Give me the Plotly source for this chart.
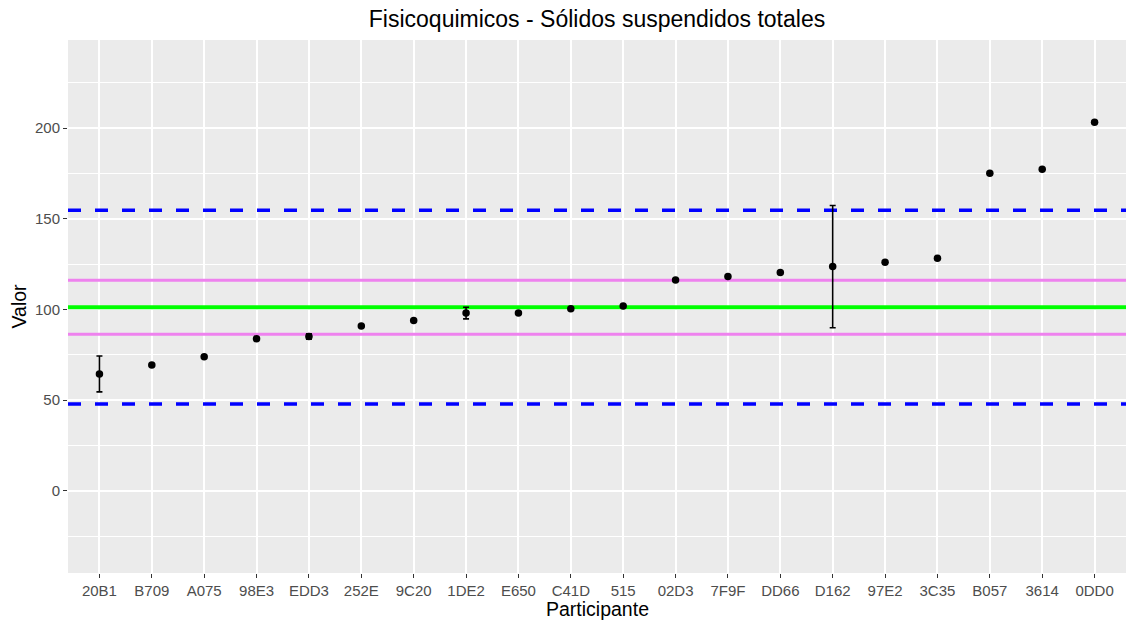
import plotly.graph_objects as go

participants = ["20B1", "B709", "A075", "98E3", "EDD3", "252E", "9C20", "1DE2", "E650", "C41D",
                "515", "02D3", "7F9F", "DD66", "D162", "97E2", "3C35", "B057", "3614", "0DD0"]
values = [64.4, 69.3, 73.9, 83.8, 85.0, 90.9, 93.9, 98.0, 98.0, 100.4,
          101.9, 116.2, 118.2, 120.4, 123.6, 126.0, 128.2, 175.1, 177.3, 203.2]
uncert = [9.9, 0, 0, 0, 1.5, 0, 0, 3.2, 0, 0,
          0, 0, 0, 0, 33.7, 0, 0, 0, 0, 0]

assigned_value = 101.2
inner_limits = [86.3, 116.1]
outer_limits = [47.8, 154.7]

y_range = [-45.4, 248.6]
y_ticks = [0, 50, 100, 150, 200]

font_family = "Liberation Sans, Arial, sans-serif"

W, H = 1129, 621
ML, MR, MT, MB = 68, 3, 40, 48
PW, PH = W - ML - MR, H - MT - MB

positions = list(range(len(participants)))
x_range = [-0.6, len(participants) - 0.4]

fig = go.Figure()

# reference lines first (drawn beneath the points), spanning the full x range
for yv in outer_limits:
    fig.add_trace(go.Scatter(x=x_range, y=[yv, yv], mode="lines",
                             line=dict(color="#0000FF", width=3.5, dash="13px,14px"),
                             hoverinfo="skip", showlegend=False))
for yv in inner_limits:
    fig.add_trace(go.Scatter(x=x_range, y=[yv, yv], mode="lines",
                             line=dict(color="#EE82EE", width=3),
                             hoverinfo="skip", showlegend=False))
fig.add_trace(go.Scatter(x=x_range, y=[assigned_value, assigned_value], mode="lines",
                         line=dict(color="#00FF00", width=4),
                         hoverinfo="skip", showlegend=False))

fig.add_trace(go.Scatter(
    x=positions, y=values, mode="markers", text=participants,
    marker=dict(color="black", size=7.5),
    error_y=dict(type="data", array=uncert, visible=True, color="black",
                 thickness=1.6, width=3),
    showlegend=False, cliponaxis=False,
))

fig.update_layout(
    width=W, height=H,
    margin=dict(l=ML, r=MR, t=MT, b=MB),
    paper_bgcolor="white", plot_bgcolor="#EBEBEB",
    font=dict(family=font_family, color="black"),
    title=dict(text="Fisicoquimicos - Sólidos suspendidos totales", x=0.5, xref="paper",
               xanchor="center", y=1 - 18.5 / H, yref="container", yanchor="middle",
               font=dict(size=23, color="black"), automargin=False),
    showlegend=False,
)

fig.add_annotation(text="Participante", xref="paper", x=0.5, yref="paper", y=-36 / PH,
                   yanchor="middle", xanchor="center", showarrow=False,
                   font=dict(size=19.5, color="black"))
fig.add_annotation(text="Valor", xref="paper", x=-50 / PW, xanchor="center",
                   yref="paper", y=0.5, yanchor="middle", textangle=-90, showarrow=False,
                   font=dict(size=19.5, color="black"))

fig.update_xaxes(
    range=x_range, tickvals=positions, ticktext=participants, automargin=False,
    showgrid=True, gridcolor="white", gridwidth=1.5,
    ticks="outside", ticklen=4, tickwidth=1.2, tickcolor="#333333",
    tickfont=dict(size=15, color="#4D4D4D"),
    zeroline=False, showline=False,
)
fig.update_yaxes(
    range=y_range, tickvals=y_ticks, ticktext=[str(v) for v in y_ticks], automargin=False,
    showgrid=True, gridcolor="white", gridwidth=1.5,
    minor=dict(dtick=25, tick0=0, showgrid=True, gridcolor="white", gridwidth=0.7),
    ticks="outside", ticklen=4, tickwidth=1.2, tickcolor="#333333",
    tickfont=dict(size=15, color="#4D4D4D"),
    zeroline=False, showline=False,
)

fig.write_html("out.html", config={"displayModeBar": False},
               post_script="document.body.style.margin='0';")
